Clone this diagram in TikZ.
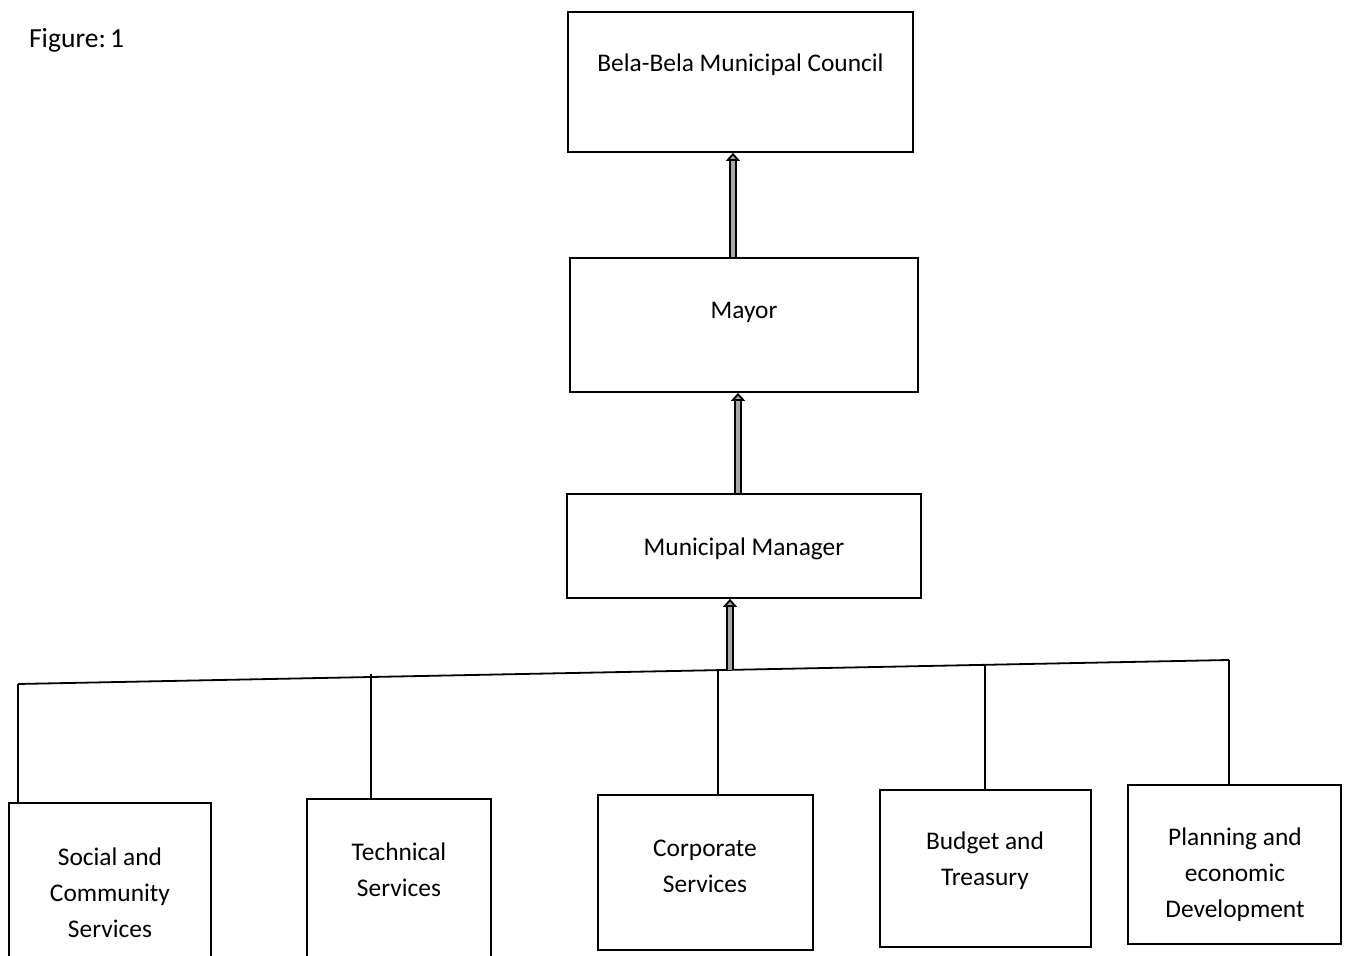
\documentclass[tikz,border=0pt]{standalone}
\usepackage{fontspec}
\setmainfont{Carlito}
\usetikzlibrary{arrows.meta}
\begin{document}
\begin{tikzpicture}[x=0.5pt,y=-0.5pt,
  box/.style={draw, line width=0.9pt, inner sep=0pt},
  lbl/.style={font=\fontsize{12.7}{18}\selectfont, align=center},
  wire/.style={line width=0.9pt},
  uparrow/.style={line width=0.9pt, double=gray!70, double distance=2.4pt,
    -{Triangle[width=7pt,length=4pt,fill=gray!70]}}]
\useasboundingbox (0,0) rectangle (1346,956);
\clip (0,0) rectangle (1346,956);

\node[font=\fontsize{13.8}{16}\selectfont, anchor=west] (fig) at (22,40) {Figure:\kern-1pt\ 1};

% top chain
\node[box, minimum width=172.5pt, minimum height=70pt] (council) at (740.5,82) {};
\node[lbl] (councilT) at (740.5,65) {Bela-Bela Municipal Council};

\node[box, minimum width=174pt, minimum height=67pt] (mayor) at (744,325) {};
\node[lbl] (mayorT) at (744,312) {Mayor};

\node[box, minimum width=177pt, minimum height=52pt] (mm) at (744,546) {};
\node[lbl] (mmT) at (744,549) {Municipal Manager};

% bus feeding the departments
\coordinate (busL) at (18,684);
\coordinate (busR) at (1229,660);
\coordinate (bus) at (730,670);
\draw[wire] (busL) -- (busR);

% upward reporting arrows
\coordinate (ax1) at (733,0);
\coordinate (ax2) at (738,0);
\draw[uparrow] (ax1 |- mayor.north) -- (ax1 |- council.south);
\draw[uparrow] (ax2 |- mm.north) -- (ax2 |- mayor.south);
\draw[uparrow] (bus) -- (bus |- mm.south);

% departments
\node[box, minimum width=101pt, minimum height=85pt] (d1) at (110,888) {};
\node[lbl] (d1T) at (110,893) {Social and\\Community\\Services};
\node[box, minimum width=92pt, minimum height=86pt] (d2) at (399,885) {};
\node[lbl] (d2T) at (399,870) {Technical\\Services};
\node[box, minimum width=107.5pt, minimum height=77.5pt] (d3) at (705.5,872.5) {};
\node[lbl] (d3T) at (705,866) {Corporate\\Services};
\node[box, minimum width=105.5pt, minimum height=78.5pt] (d4) at (985.5,868.5) {};
\node[lbl] (d4T) at (985,861) {Budget and\\Treasury};
\node[box, minimum width=106.5pt, minimum height=79.5pt] (d5) at (1234.5,864.5) {};
\node[lbl] (d5T) at (1235,875) {Planning and\\economic\\Development};

\draw[wire] (busL) -- (busL |- d1.north);
\draw[wire] (371,674) -- (371,799);
\draw[wire] (718,669) -- (718,795);
\draw[wire] (985,665) -- (985,790);
\draw[wire] (busR) -- (busR |- d5.north);
\end{tikzpicture}
\end{document}
